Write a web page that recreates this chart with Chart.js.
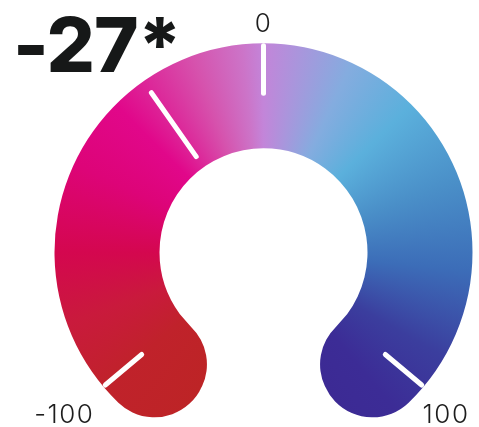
<!DOCTYPE html>
<html>
<head>
<meta charset="utf-8">
<script src="https://cdn.jsdelivr.net/npm/chart.js"></script>
<style>
  html, body { margin: 0; padding: 0; background: #fff; }
  #wrap { width: 479px; height: 427px; }
</style>
</head>
<body>
<div id="wrap"><canvas id="gauge"></canvas></div>
<script>
const scaleMin = -100
const scaleMax = 100
const tickValues = [-100, 0, 100]
const tickLabels = ['-100', '0', '100']
const value = -27
const valueLabel = '-27*'

// ring colours, keyed by angle from the top (degrees, clockwise)
const ringColours = [
  [-155, '#bd2426'],
  [-130, '#c0222b'],
  [-110, '#c91a3c'],
  [-90, '#d4074f'],
  [-65, '#dd0478'],
  [-45, '#e1078a'],
  [-20, '#d652ad'],
  [-6, '#cc74c8'],
  [0, '#c385d9'],
  [10, '#aa95dc'],
  [25, '#84acdf'],
  [45, '#5bb0dc'],
  [70, '#4a8fc8'],
  [95, '#3c6db8'],
  [120, '#3b3e9e'],
  [140, '#3c2c96'],
  [155, '#3c2a94']
]

const sweep = 130 * Math.PI / 180
function valueAngle(v) {
  const mid = (scaleMin + scaleMax) / 2
  return (v - mid) / ((scaleMax - scaleMin) / 2) * sweep
}

const gaugeMarks = {
  id: 'gaugeMarks',
  afterDatasetsDraw(chart) {
    const arc = chart.getDatasetMeta(0).data[0]
    if (!arc) return
    const ctx = chart.ctx
    const cx = arc.x, cy = arc.y
    const R = arc.outerRadius, r = arc.innerRadius
    const pt = (a, rr) => [cx + rr * Math.sin(a), cy - rr * Math.cos(a)]

    ctx.save()
    ctx.strokeStyle = '#ffffff'
    ctx.lineWidth = 5
    ctx.lineCap = 'round'
    tickValues.forEach(v => {
      const a = valueAngle(v)
      const p1 = pt(a, (R + r) / 2 + 2.5)
      const p2 = pt(a, R - 2.5)
      ctx.beginPath(); ctx.moveTo(p1[0], p1[1]); ctx.lineTo(p2[0], p2[1]); ctx.stroke()
    })
    // value marker
    const va = valueAngle(value)
    const m1 = pt(va, r + 13), m2 = pt(va, R - 14)
    ctx.beginPath(); ctx.moveTo(m1[0], m1[1]); ctx.lineTo(m2[0], m2[1]); ctx.stroke()

    // tick labels
    ctx.fillStyle = '#1d1d1d'
    ctx.font = '300 26px Inter'
    ctx.letterSpacing = '1.5px'
    ctx.textBaseline = 'alphabetic'
    tickValues.forEach((v, i) => {
      const a = valueAngle(v)
      const e = pt(a, R)
      if (a < 0) {
        ctx.textAlign = 'right'
        ctx.fillText(tickLabels[i], e[0] - 9, e[1] + 36)
      } else if (a > 0) {
        ctx.textAlign = 'left'
        ctx.fillText(tickLabels[i], e[0] - 1, e[1] + 36)
      } else {
        ctx.textAlign = 'center'
        ctx.fillText(tickLabels[i], e[0], e[1] - 11)
      }
    })

    // big value
    ctx.fillStyle = '#161818'
    ctx.font = '800 76px Inter'
    ctx.letterSpacing = '-1px'
    ctx.textAlign = 'left'
    ctx.fillText(valueLabel, 13, 72)
    ctx.restore()
  }
}

const gauge = new Chart(document.getElementById('gauge'), {
  type: 'doughnut',
  data: {
    labels: ['scale'],
    datasets: [{
      data: [scaleMax - scaleMin],
      borderWidth: 0,
      borderRadius: 52,
      clip: false,
      backgroundColor: function(context) {
        const chart = context.chart
        const area = chart.chartArea
        if (!area) return '#c0222b'
        const ctrl = chart.getDatasetMeta(0).controller
        const cx = (area.left + area.right) / 2 + (ctrl.offsetX || 0)
        const cy = (area.top + area.bottom) / 2 + (ctrl.offsetY || 0)
        const g = chart.ctx.createConicGradient(-Math.PI / 2, cx, cy)
        ringColours.forEach(s => {
          const off = (s[0] >= 0 ? s[0] : 360 + s[0]) / 360
          g.addColorStop(off, s[1])
        })
        g.addColorStop(1, '#c385d9')
        return g
      }
    }]
  },
  options: {
    responsive: true,
    maintainAspectRatio: false,
    animation: false,
    events: [],
    rotation: -155,
    circumference: 310,
    radius: 209,
    cutout: '49.76%',
    layout: {
      padding: { left: 48, right: 0, top: 58, bottom: 0 }
    },
    plugins: {
      legend: { display: false },
      tooltip: { enabled: false }
    }
  },
  plugins: [gaugeMarks]
})
</script>
</body>
</html>
